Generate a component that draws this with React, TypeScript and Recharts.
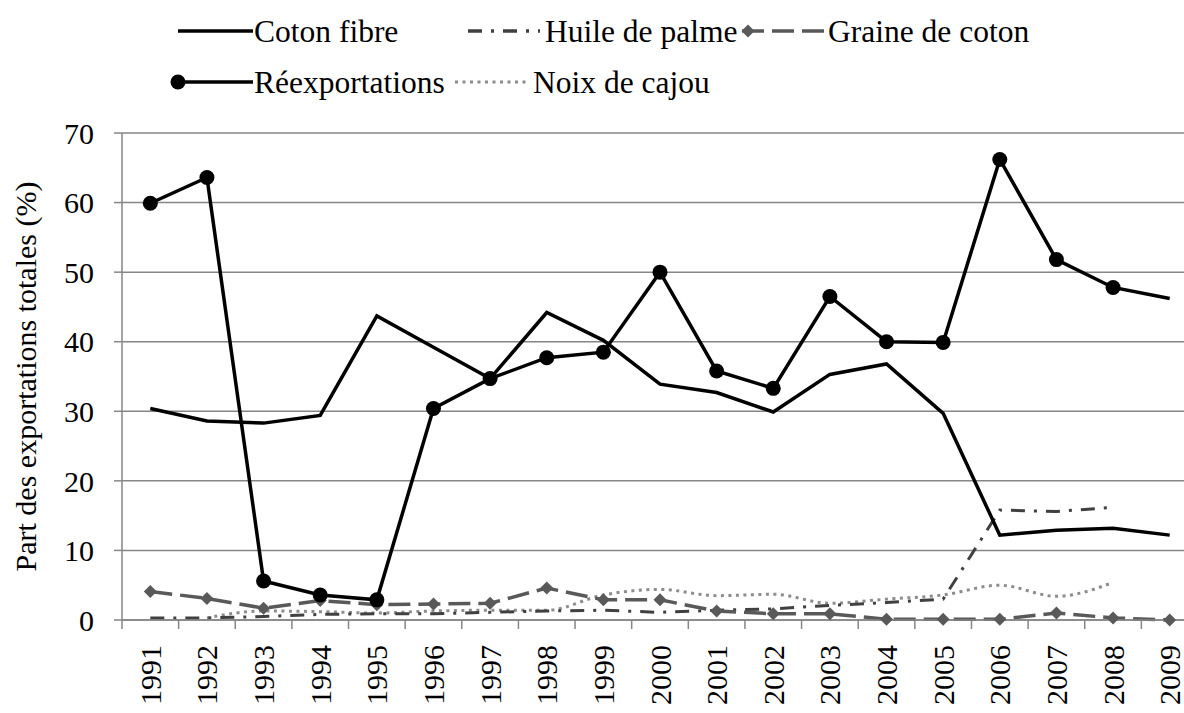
import React from 'react';
import { LineChart, Line, XAxis, YAxis, CartesianGrid } from 'recharts';

const years = ['1991', '1992', '1993', '1994', '1995', '1996', '1997', '1998', '1999', '2000',
  '2001', '2002', '2003', '2004', '2005', '2006', '2007', '2008', '2009'];
const cotonFibre = [30.4, 28.6, 28.3, 29.4, 43.7, 39.2, 34.7, 44.2, 40.2, 33.9, 32.7, 29.9, 35.3, 36.8, 29.7, 12.2, 12.9, 13.2, 12.2];
const huilePalme = [0.3, 0.3, 0.5, 0.8, 0.9, 0.9, 1.1, 1.3, 1.4, 1.1, 1.4, 1.6, 2.1, 2.5, 3.0, 15.8, 15.6, 16.2, null];
const graineCoton = [4.1, 3.1, 1.7, 2.8, 2.2, 2.3, 2.4, 4.6, 2.9, 2.9, 1.3, 0.9, 0.9, 0.1, 0.1, 0.1, 1.0, 0.3, 0.0];
const reexportations = [59.9, 63.6, 5.6, 3.6, 2.9, 30.4, 34.7, 37.7, 38.5, 50.0, 35.8, 33.3, 46.5, 40.0, 39.9, 66.2, 51.8, 47.8, 46.2];
const noixCajou = [null, 0.3, 1.3, 1.2, 1.0, 1.3, 1.4, 1.4, 3.6, 4.4, 3.5, 3.7, 2.4, 3.0, 3.6, 5.0, 3.4, 5.4, null];
const yTicks = [0, 10, 20, 30, 40, 50, 60, 70];
const seriesNames = ['Coton fibre', 'Huile de palme', 'Graine de coton', 'Réexportations', 'Noix de cajou'];
const yTitle = 'Part des exportations totales (%)';

const data = years.map((year, i) => ({
  year,
  coton: cotonFibre[i],
  huile: huilePalme[i],
  graine: graineCoton[i],
  reexp: reexportations[i],
  cajou: noixCajou[i],
}));

const FONT = '"Liberation Serif", "Times New Roman", serif';
const AXIS = '#868686';
const GRAINE = '#595959';
const HUILE = '#404040';
const CAJOU = '#8c8c8c';

const CHART_W = 1198;
const CHART_H = 713;
const MARGIN = { top: 133, right: 0, bottom: 8, left: 22 };
const YAXIS_W = 100;
const STEP = (CHART_W - MARGIN.left - MARGIN.right - YAXIS_W) / years.length;

const XTick = (props: any) => {
  const { x, y, payload } = props;
  const ty = y + 25;
  return (
    <g>
      <line x1={x - STEP / 2} x2={x - STEP / 2} y1={y} y2={y + 9} stroke={AXIS} strokeWidth={1.5} />
      <text x={x} y={ty} transform={`rotate(-90 ${x} ${ty})`} textAnchor="end" dy="0.35em"
        fontFamily={FONT} fontSize={30} fill="#000">{payload.value}</text>
    </g>
  );
};

const ReexpDot = (props: any) => {
  const { cx, cy, index } = props;
  if (index === years.length - 1 || cy == null) return <g key={`r${index}`} />;
  return <circle key={`r${index}`} cx={cx} cy={cy} r={7.5} fill="#000" />;
};

const Diamond = (props: any) => {
  const { cx, cy, index } = props;
  if (cy == null) return <g key={`d${index}`} />;
  const s = 6.5;
  return <path key={`d${index}`} d={`M${cx} ${cy - s}L${cx + s} ${cy}L${cx} ${cy + s}L${cx - s} ${cy}Z`} fill={GRAINE} />;
};

const Legend2 = () => {
  const row1 = 31;
  const row2 = 82;
  const txt = (x: number, y: number, s: string) => (
    <text x={x} y={y} dominantBaseline="central" fontFamily={FONT} fontSize={31.5} fill="#000">{s}</text>
  );
  return (
    <svg width={1184} height={110} style={{ position: 'absolute', left: 0, top: 0 }}>
      <line x1={178} x2={253} y1={row1} y2={row1} stroke="#000" strokeWidth={3.5} />
      {txt(254, row1, seriesNames[0])}
      <line x1={468} x2={540} y1={row1} y2={row1} stroke={HUILE} strokeWidth={3.5} strokeDasharray="14 9 3 9" />
      {txt(545, row1, seriesNames[1])}
      <line x1={742} x2={825} y1={row1} y2={row1} stroke={GRAINE} strokeWidth={3.5} strokeDasharray="22 8" />
      <path d={`M748 ${row1 - 6.5}L754.5 ${row1}L748 ${row1 + 6.5}L741.5 ${row1}Z`} fill={GRAINE} />
      {txt(828, row1, seriesNames[2])}
      <line x1={178} x2={253} y1={row2} y2={row2} stroke="#000" strokeWidth={3.5} />
      <circle cx={178} cy={row2} r={7.5} fill="#000" />
      {txt(254, row2, seriesNames[3])}
      <line x1={455} x2={528} y1={row2} y2={row2} stroke={CAJOU} strokeWidth={3} strokeDasharray="3 4.5" />
      {txt(533, row2, seriesNames[4])}
    </svg>
  );
};

export default function App() {
  return (
    <div style={{ position: 'absolute', left: 0, top: 0, width: 1184, height: 713, overflow: 'hidden', background: '#fff' }}>
      <LineChart width={CHART_W} height={CHART_H} data={data} margin={MARGIN}>
        <CartesianGrid vertical={false} stroke={AXIS} strokeWidth={1.5} />
        <XAxis dataKey="year" height={85} axisLine={{ stroke: AXIS, strokeWidth: 1.5 }} tickLine={false}
          tickSize={0} tickMargin={0} interval={0} tick={<XTick />}
          padding={{ left: STEP / 2, right: STEP / 2 }} />
        <YAxis width={YAXIS_W} domain={[0, 70]} ticks={yTicks} interval={0}
          axisLine={{ stroke: AXIS, strokeWidth: 1.5 }} tickLine={{ stroke: AXIS, strokeWidth: 1.5 }}
          tickSize={8} tickMargin={20}
          tick={{ fontFamily: FONT, fontSize: 30, fill: '#000' }}
          label={{ value: yTitle, angle: -90, position: 'insideLeft', dx: -2,
            style: { textAnchor: 'middle', fontFamily: FONT, fontSize: 30, fill: '#000' } }} />
        <Line dataKey="cajou" type="monotone" stroke={CAJOU} strokeWidth={3} strokeDasharray="3 4.5" dot={false} isAnimationActive={false} />
        <Line dataKey="huile" type="linear" stroke={HUILE} strokeWidth={3} strokeDasharray="14 9 3 9" dot={false} isAnimationActive={false} />
        <Line dataKey="graine" type="linear" stroke={GRAINE} strokeWidth={3.5} strokeDasharray="22 8" dot={<Diamond />} isAnimationActive={false} />
        <Line dataKey="coton" type="linear" stroke="#000" strokeWidth={3.5} dot={false} isAnimationActive={false} />
        <Line dataKey="reexp" type="linear" stroke="#000" strokeWidth={3.5} dot={<ReexpDot />} isAnimationActive={false} />
      </LineChart>
      <Legend2 />
    </div>
  );
}
